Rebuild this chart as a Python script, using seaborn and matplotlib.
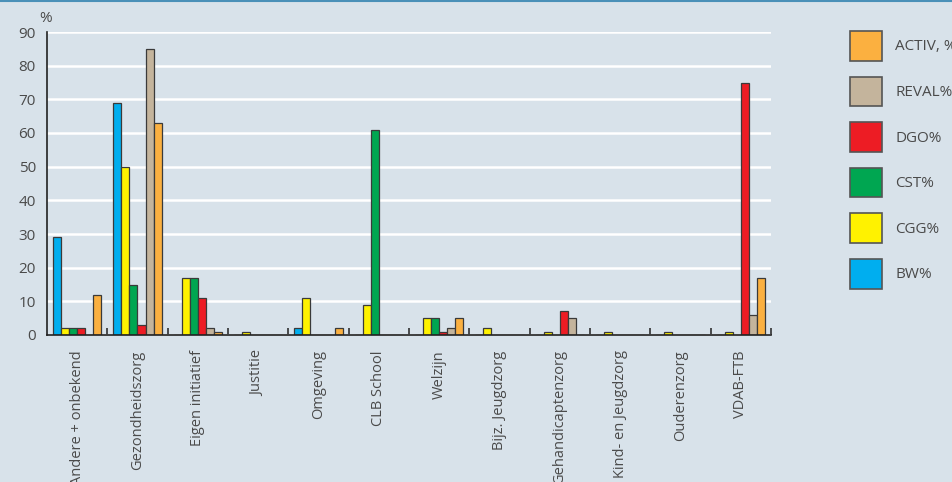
import matplotlib
matplotlib.use("Agg")
from matplotlib import pyplot as plt
from matplotlib.patches import Patch
import pandas as pd
import seaborn as sns

# sectors on the x axis
categories = ['Andere + onbekend', 'Gezondheidszorg', 'Eigen initiatief', 'Justitie',
              'Omgeving', 'CLB School', 'Welzijn', 'Bijz. Jeugdzorg',
              'Gehandicaptenzorg', 'Kind- en Jeugdzorg', 'Ouderenzorg', 'VDAB-FTB']

# one list per series, same order as categories
bw    = [29, 69,  0, 0,  2,  0, 0, 0, 0, 0, 0,  0]
cgg   = [ 2, 50, 17, 1, 11,  9, 5, 2, 1, 1, 1,  1]
cst   = [ 2, 15, 17, 0,  0, 61, 5, 0, 0, 0, 0,  0]
dgo   = [ 2,  3, 11, 0,  0,  0, 1, 0, 7, 0, 0, 75]
reval = [ 0, 85,  2, 0,  0,  0, 2, 0, 5, 0, 0,  6]
activ = [12, 63,  1, 0,  2,  0, 5, 0, 0, 0, 0, 17]

series_names = ['BW%', 'CGG%', 'CST%', 'DGO%', 'REVAL%', 'ACTIV, %']
series_colors = ['#00aeef', '#fff200', '#00a651', '#ed1c24', '#c4b49c', '#fbb040']

rows = []
for name, vals in zip(series_names, [bw, cgg, cst, dgo, reval, activ]):
    for cat, v in zip(categories, vals):
        rows.append({'cat': cat, 'serie': name, 'val': v})
df = pd.DataFrame(rows)

bg = '#d8e2ea'
txt = '#4a4a4a'

sns.set_style('white')
plt.rcParams['font.family'] = ['Open Sans', 'DejaVu Sans']

fig = plt.figure(figsize=(9.53, 4.82), dpi=100, facecolor=bg)
ax = fig.add_axes([47/953, 1-335/482, (771-47)/953, (335-32)/482])
ax.set_facecolor(bg)

sns.barplot(data=df, x='cat', y='val', hue='serie', hue_order=series_names,
            order=categories, palette=series_colors, width=0.8, saturation=1,
            edgecolor='#3a3a3a', linewidth=0.9, legend=False, ax=ax)

ax.set_ylim(0, 90)
ax.set_xlim(-0.5, len(categories) - 0.5)
ax.set_yticks(range(0, 91, 10))
ax.yaxis.grid(True, color='white', linewidth=1.8)
ax.set_axisbelow(True)
ax.set_xlabel('')
ax.set_ylabel('')

for s in ['top', 'right']:
    ax.spines[s].set_visible(False)
for s in ['left', 'bottom']:
    ax.spines[s].set_color('#222222')
    ax.spines[s].set_linewidth(1.2)

ax.tick_params(axis='y', length=0, pad=8, labelsize=11, labelcolor=txt)
ax.set_xticks(range(len(categories)))
ax.set_xticklabels(categories, rotation=90, fontsize=10.5, color=txt)
ax.tick_params(axis='x', which='major', bottom=True, length=0, pad=11)
ax.set_xticks([i + 0.5 for i in range(len(categories))], minor=True)
ax.tick_params(axis='x', which='minor', bottom=True, direction='in',
               length=5, width=1.1, color='#222222')

fig.text(46/953, 1-18/482, '%', fontsize=11, color=txt, ha='center', va='center')

# legend, reversed order
handles = [Patch(facecolor=c, edgecolor='#555555', linewidth=1.2)
           for c in series_colors][::-1]
fig.legend(handles, series_names[::-1], loc='upper left',
           bbox_to_anchor=(850/953, 1-31/482), frameon=False, fontsize=11,
           handlelength=2.1, handleheight=2.6, labelspacing=1.05,
           handletextpad=0.85, borderpad=0, borderaxespad=0, labelcolor=txt)

# thin line along the top edge
fig.add_artist(plt.Line2D([0, 1], [0.998, 0.998], transform=fig.transFigure,
                          color='#4a90b8', linewidth=1.5))

fig.savefig('out.png', dpi=100, facecolor=bg)
